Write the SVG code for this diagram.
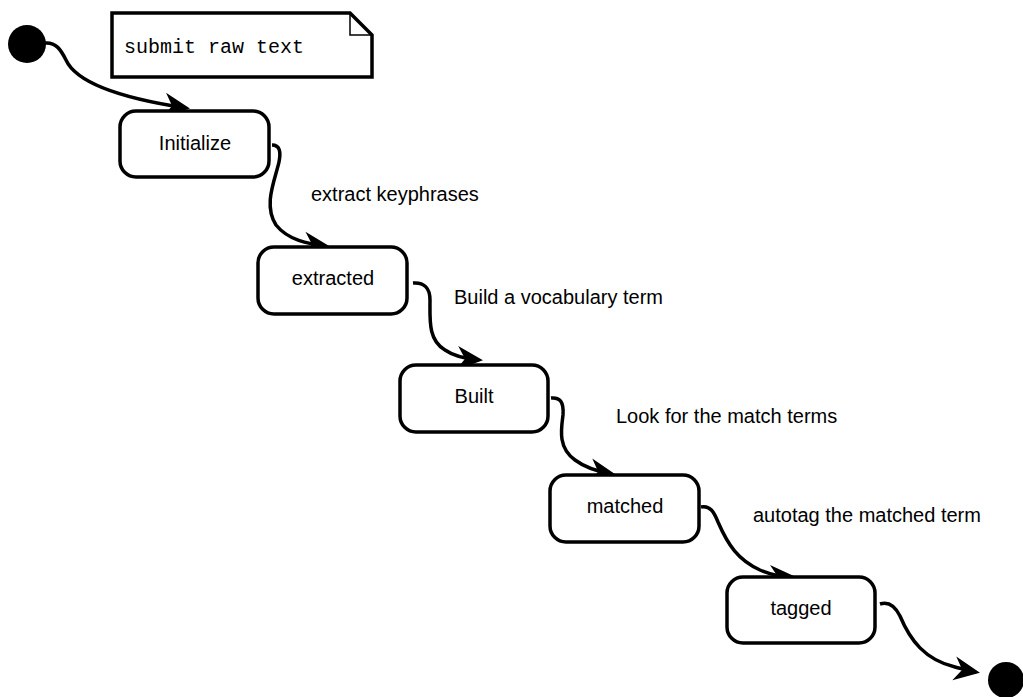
<svg xmlns="http://www.w3.org/2000/svg" width="1023" height="697" viewBox="0 0 1023 697">
<style>
.box{fill:#fff;stroke:#000;stroke-width:3.5}
.lbl{font-family:"Liberation Sans",Arial,sans-serif;font-size:20px;fill:#000}
.ctr{text-anchor:middle}
.mono{font-family:"Liberation Mono","Courier New",monospace;font-size:20px;fill:#000}
.edge{fill:none;stroke:#000;stroke-width:3.5;marker-end:url(#arr)}
</style>
<defs>
<marker id="arr" viewBox="-26 -14 32 28" refX="0" refY="0" markerWidth="32" markerHeight="28" markerUnits="userSpaceOnUse" orient="auto">
<path d="M4,0 L-22,-12 L-14,0 L-22,12 Z" fill="#000"/>
</marker>
</defs>
<rect width="1023" height="697" fill="#fff"/>
<g id="connectors">
<path class="edge" d="M45,43 C56,42 61,50 66,60 C76,82 120,98 186,108"/>
<path class="edge" d="M272,145 C280,145 281,152 279,162 C275,180 263,205 276,225 C288,240 308,244 326,246"/>
<path class="edge" d="M413,283 C424,282 430,288 430,300 C430,320 428,340 445,350 C455,357 468,359 479,360"/>
<path class="edge" d="M551,398 C560,397 564,402 563,415 C561,430 558,448 575,460 C587,469 600,472 612,474"/>
<path class="edge" d="M701,507 C710,505 714,512 718,522 C728,545 738,560 760,570 C772,575 782,577 792,577"/>
<path class="edge" d="M880,604 C889,601 895,606 900,616 C910,640 925,660 955,667 C963,669 970,671 976,672"/>
</g>
<g id="start"><circle cx="27" cy="44" r="19" fill="#000"/></g>
<g id="note">
<path class="box" d="M112,13 L350,13 L372,35 L372,77 L112,77 Z"/>
<path d="M350,13 L350,35 L372,35" fill="none" stroke="#000" stroke-width="1.5"/>
<text class="mono" x="124" y="53">submit raw text</text>
</g>
<g id="initialize">
<rect class="box" x="120" y="111" width="149" height="66" rx="16"/>
<text class="lbl ctr" x="195" y="150">Initialize</text>
</g>
<g id="extracted">
<rect class="box" x="258" y="247" width="149" height="67" rx="16"/>
<text class="lbl ctr" x="333" y="285">extracted</text>
</g>
<g id="built">
<rect class="box" x="400" y="365" width="148" height="67" rx="16"/>
<text class="lbl ctr" x="474" y="403">Built</text>
</g>
<g id="matched">
<rect class="box" x="550" y="475" width="149" height="67" rx="16"/>
<text class="lbl ctr" x="625" y="513">matched</text>
</g>
<g id="tagged">
<rect class="box" x="727" y="577" width="148" height="66" rx="16"/>
<text class="lbl ctr" x="801" y="615">tagged</text>
</g>
<g id="end"><circle cx="1006" cy="680" r="18" fill="#000"/></g>
<g id="labels">
<text class="lbl" x="311" y="201">extract keyphrases</text>
<text class="lbl" x="454" y="304">Build a vocabulary term</text>
<text class="lbl" x="616" y="423">Look for the match terms</text>
<text class="lbl" x="753" y="522">autotag the matched term</text>
</g>
</svg>
